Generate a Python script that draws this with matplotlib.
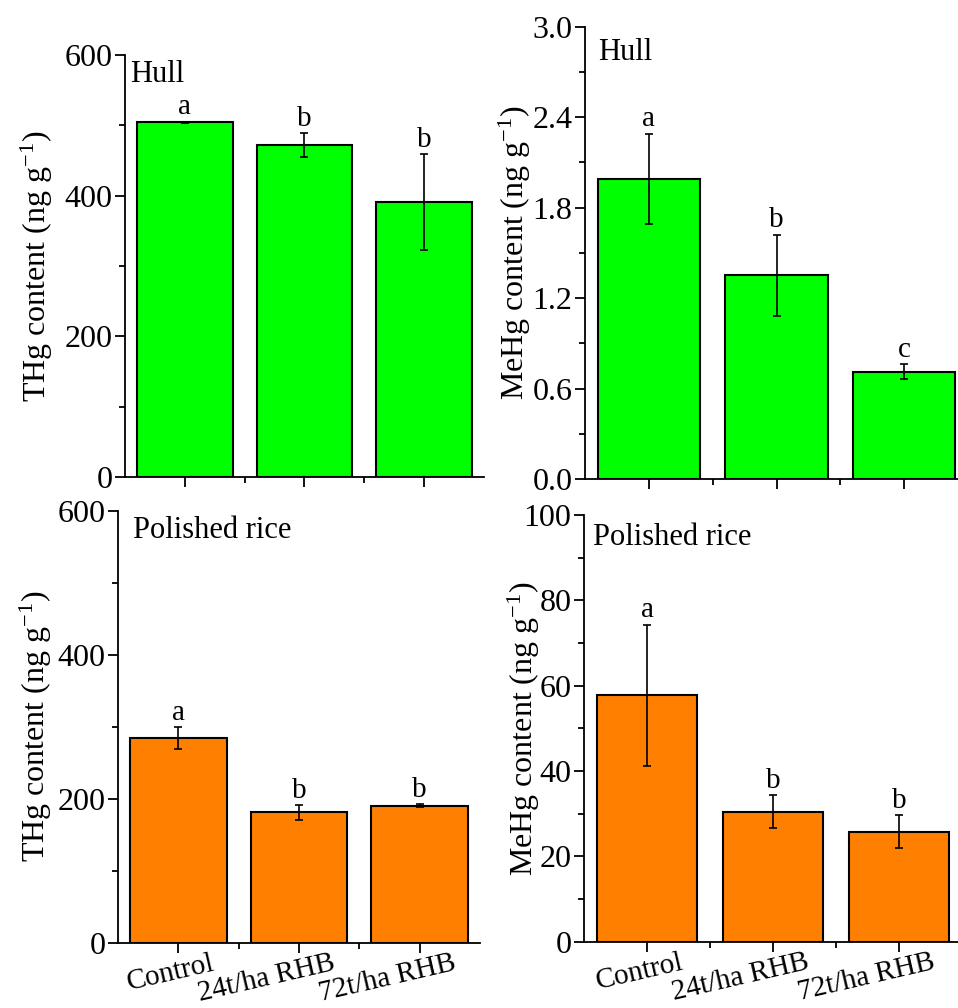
import numpy as np
import matplotlib
matplotlib.use("Agg")
import matplotlib.pyplot as plt
from matplotlib.ticker import MultipleLocator, FixedLocator, FormatStrFormatter
from matplotlib.transforms import ScaledTranslation

plt.rcParams.update({
    'font.family': ['Liberation Serif', 'DejaVu Serif'],
    'mathtext.fontset': 'custom',
    'mathtext.rm': 'Liberation Serif',
    'mathtext.it': 'Liberation Serif:italic',
    'axes.linewidth': 1.3,
})

# ── Data ──────────────────────────────────────────────
treatments = ["Control", "24t/ha RHB", "72t/ha RHB"]

hull_thg = [504, 472, 391]
hull_thg_err = [1, 17, 68]
hull_thg_sig = ["a", "b", "b"]

hull_mehg = [1.99, 1.35, 0.71]
hull_mehg_err = [0.30, 0.27, 0.05]
hull_mehg_sig = ["a", "b", "c"]

rice_thg = [284, 181, 190]
rice_thg_err = [15, 10, 2]
rice_thg_sig = ["a", "b", "b"]

rice_mehg = [57.7, 30.5, 25.8]
rice_mehg_err = [16.6, 3.8, 3.8]
rice_mehg_sig = ["a", "b", "b"]

GREEN = "#00ff00"
ORANGE = "#ff8000"

fig = plt.figure(figsize=(9.58, 10.08), dpi=100)

panels = [
    # rect, values, errs, sig, color, ylim, major, minor, fmt, ylabel, title, title_xy, label_x
    ([0.1305, 0.5268, 0.3745, 0.4187], hull_thg, hull_thg_err, hull_thg_sig, GREEN,
     600, 200, 100, "%d", "THg", "Hull", (0.014, 0.936), -0.195),
    ([0.6106, 0.5248, 0.4000, 0.4487], hull_mehg, hull_mehg_err, hull_mehg_sig, GREEN,
     3.0, 0.6, 0.3, "%.1f", "MeHg", "Hull", (0.034, 0.926), -0.136),
    ([0.1232, 0.0648, 0.3779, 0.4286], rice_thg, rice_thg_err, rice_thg_sig, ORANGE,
     600, 200, 100, "%d", "THg", "Polished rice", (0.041, 0.937), -0.177),
    ([0.6096, 0.0658, 0.3946, 0.4233], rice_mehg, rice_mehg_err, rice_mehg_sig, ORANGE,
     100, 20, 10, "%d", "MeHg", "Polished rice", (0.024, 0.930), -0.111),
]

x = np.arange(len(treatments))

for i, (rect, vals, errs, sig, color, ymax, major, minor, fmt, name,
        title, title_xy, label_x) in enumerate(panels):
    ax = fig.add_axes(rect)
    ax.bar(x, vals, width=0.8, color=color, edgecolor="black", linewidth=1.5, zorder=2)
    ax.errorbar(x, vals, yerr=errs, fmt="none", ecolor="black", elinewidth=1.2,
                capsize=3, capthick=1.2, zorder=3)
    for xi, v, e, s in zip(x, vals, errs, sig):
        ax.annotate(s, (xi, v + e), xytext=(0, 1), textcoords="offset points",
                    ha="center", va="bottom", fontsize=21)

    ax.set_xlim(-0.5, 2.5)
    ax.set_ylim(0, ymax)
    ax.spines["top"].set_visible(False)
    ax.spines["right"].set_visible(False)

    ax.yaxis.set_major_locator(MultipleLocator(major))
    ax.yaxis.set_minor_locator(MultipleLocator(minor))
    ax.yaxis.set_major_formatter(FormatStrFormatter(fmt))
    ax.set_xticks(x)
    ax.xaxis.set_minor_locator(FixedLocator([0.5, 1.5]))
    ax.tick_params(which="major", direction="out", length=7, width=1.3, labelsize=23, pad=2)
    ax.tick_params(which="minor", direction="out", length=4, width=1.3)

    if i >= 2:
        ax.set_xticklabels(treatments, rotation=13, ha="right", va="top",
                           rotation_mode="anchor", fontsize=21)
        for lab in ax.get_xticklabels():
            lab.set_transform(lab.get_transform() + ScaledTranslation(0.33, 0.05, fig.dpi_scale_trans))
    else:
        ax.set_xticklabels([])

    ax.set_ylabel(name + r" content (ng g$^{-1}$)", fontsize=23)
    ax.yaxis.set_label_coords(label_x, 0.5)
    ax.text(title_xy[0], title_xy[1], title, transform=ax.transAxes,
            ha="left", va="baseline", fontsize=22)

fig.savefig("out.png", dpi=100, facecolor="white")
